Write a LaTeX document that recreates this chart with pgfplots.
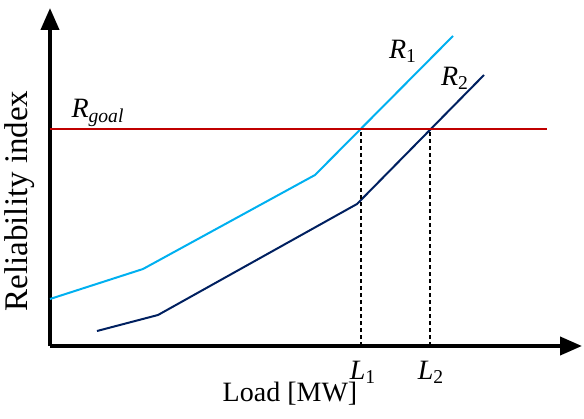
\documentclass[border=0pt]{standalone}
\usepackage{fontspec}
\setmainfont{Liberation Serif}
\usepackage{pgfplots}
\pgfplotsset{compat=1.18}
\usetikzlibrary{arrows.meta}

\definecolor{lightblue}{HTML}{00B0F0}
\definecolor{navy}{HTML}{002060}
\definecolor{darkred}{HTML}{C00000}

\tikzset{lbl/.style={font=\fontsize{14}{16}\selectfont, inner sep=0pt}}

\begin{document}
\begin{tikzpicture}
\begin{axis}[
    scale only axis,
    width=266pt,
    height=169pt,
    xmin=50, xmax=582,
    ymin=72, ymax=410,
    axis lines=left,
    axis line style={line width=2pt, -{Triangle[width=9pt,length=11pt]}},
    ticks=none,
    clip=false,
]
% reliability curves (pixel-scale units, no real values on axes)
\addplot[lightblue, line width=1pt] coordinates {
    (50,119) (143,149) (315,243) (453,382)
};
\addplot[navy, line width=1pt] coordinates {
    (97,87) (158,103) (357,214) (484,343)
};
% goal level
\addplot[darkred, line width=1pt] coordinates {(50,289) (547,289)};
% load limits
\addplot[black, line width=0.8pt, dash pattern=on 2pt off 1.5pt] coordinates {(361,72) (361,289)};
\addplot[black, line width=0.8pt, dash pattern=on 2pt off 1.5pt] coordinates {(430,72) (430,289)};

\node[lbl] at (axis cs:403,367) {\textit{R}\textsubscript{1}};
\node[lbl] at (axis cs:455,340) {\textit{R}\textsubscript{2}};
\node[lbl] at (axis cs:98,305) {\textit{R}\textsubscript{\textit{goal}}};
\node[lbl] at (axis cs:363,46) {\textit{L}\textsubscript{1}};
\node[lbl] at (axis cs:431,46) {\textit{L}\textsubscript{2}};
\node[lbl] at (axis cs:290,24) {Load [MW]};
\node[lbl, rotate=90, font=\fontsize{16.5}{18}\selectfont] at (axis cs:20,217) {Reliability index};
\path (axis cs:0,0) -- (axis cs:584,418);
\end{axis}
\end{tikzpicture}
\end{document}
